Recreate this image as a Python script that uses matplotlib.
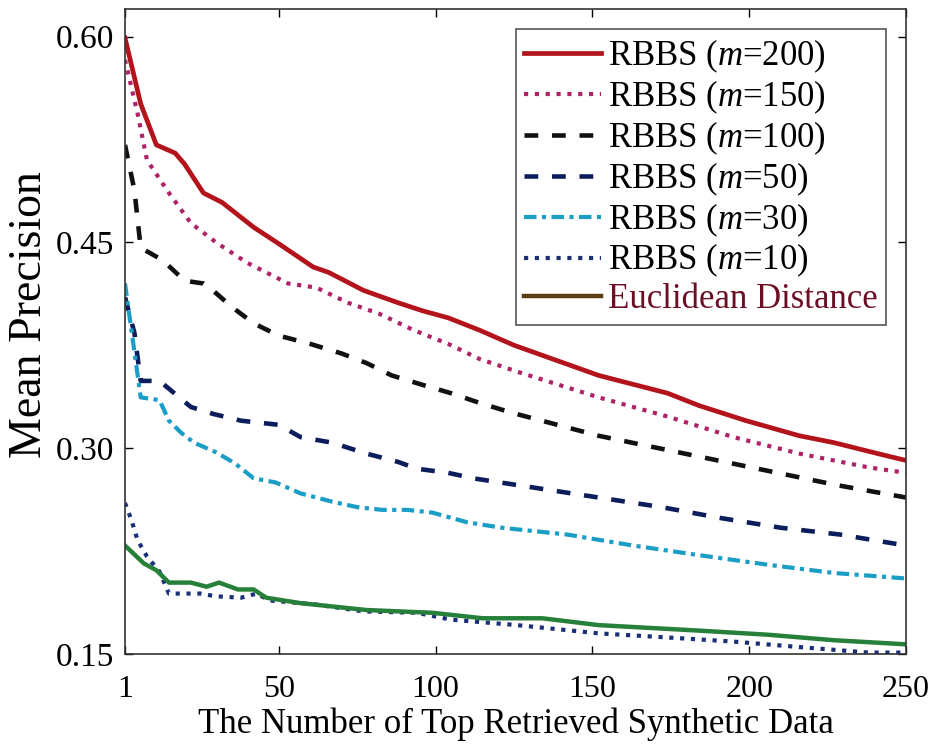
import matplotlib
matplotlib.use('Agg')
import matplotlib.pyplot as plt

# values (x = number of top retrieved items)
m200_x = [1, 6, 11, 17, 20, 26, 32, 42, 50, 61, 66, 77, 88, 96, 104, 114, 125, 152, 174, 184, 199, 216, 227, 241, 250]
m200_y = [0.599, 0.551, 0.521, 0.515, 0.507, 0.486, 0.479, 0.461, 0.449, 0.432, 0.428, 0.415, 0.406, 0.400, 0.395,
          0.386, 0.375, 0.353, 0.340, 0.331, 0.320, 0.309, 0.304, 0.296, 0.291]

m150_x = [1, 5, 8, 15, 22, 30, 40, 53, 62, 72, 82, 93, 104, 114, 127, 152, 174, 195, 216, 238, 250]
m150_y = [0.583, 0.544, 0.510, 0.486, 0.464, 0.450, 0.435, 0.420, 0.417, 0.406, 0.398, 0.386, 0.376, 0.365, 0.355,
          0.337, 0.323, 0.308, 0.296, 0.286, 0.282]

m100_x = [1, 4, 6, 13, 20, 26, 28, 35, 42, 50, 60, 70, 78, 86, 96, 105, 114, 124, 152, 171, 190, 209, 228, 250]
m100_y = [0.521, 0.488, 0.446, 0.437, 0.422, 0.420, 0.417, 0.403, 0.391, 0.382, 0.376, 0.369, 0.362, 0.353, 0.346,
          0.340, 0.333, 0.326, 0.309, 0.300, 0.291, 0.282, 0.273, 0.264]

m50_x = [1, 4, 6, 12, 22, 29, 38, 50, 57, 67, 78, 88, 94, 104, 112, 152, 172, 191, 210, 229, 250]
m50_y = [0.410, 0.384, 0.349, 0.349, 0.330, 0.325, 0.320, 0.317, 0.308, 0.304, 0.296, 0.290, 0.285, 0.282, 0.278,
         0.264, 0.257, 0.249, 0.242, 0.237, 0.229]

m30_x = [1, 6, 12, 15, 19, 23, 30, 36, 42, 49, 57, 67, 75, 83, 91, 99, 110, 121, 142, 163, 184, 206, 227, 250]
m30_y = [0.420, 0.337, 0.335, 0.320, 0.311, 0.304, 0.297, 0.289, 0.278, 0.275, 0.267, 0.261, 0.257, 0.255, 0.255,
         0.253, 0.246, 0.242, 0.237, 0.229, 0.222, 0.215, 0.209, 0.205]

m10_x = [1, 3, 5, 8, 12, 15, 25, 30, 38, 43, 47, 62, 77, 94, 105, 126, 152, 174, 195, 216, 238, 250]
m10_y = [0.260, 0.248, 0.233, 0.221, 0.210, 0.194, 0.194, 0.192, 0.191, 0.194, 0.189, 0.186, 0.181, 0.180, 0.175,
         0.171, 0.165, 0.162, 0.159, 0.155, 0.151, 0.151]

eucl_x = [1, 7, 11, 15, 22, 27, 31, 37, 42, 46, 57, 78, 99, 115, 134, 152, 184, 206, 227, 250]
eucl_y = [0.229, 0.216, 0.211, 0.202, 0.202, 0.199, 0.202, 0.197, 0.197, 0.191, 0.187, 0.182, 0.180, 0.176, 0.176,
          0.171, 0.167, 0.164, 0.160, 0.157]

x_ticks = [1, 50, 100, 150, 200, 250]
y_ticks = [0.15, 0.30, 0.45, 0.60]

plt.rcParams['font.family'] = ['Liberation Serif', 'DejaVu Serif']
plt.rcParams['mathtext.fontset'] = 'custom'
plt.rcParams['mathtext.rm'] = 'Liberation Serif'
plt.rcParams['mathtext.it'] = 'Liberation Serif:italic'

fig = plt.figure(figsize=(9.37, 7.56), dpi=100)
ax = fig.add_axes([0.1334, 0.135, 0.8336, 0.853])

ax.plot(m200_x, m200_y, color='#b3141c', lw=3.4, label='RBBS ($m$=200)')
ax.plot(m150_x, m150_y, color='#ad2367', lw=3, dashes=(1, 1.6), label='RBBS ($m$=150)')
ax.plot(m100_x, m100_y, color='#111111', lw=3.3, dashes=(3, 3), label='RBBS ($m$=100)')
ax.plot(m50_x, m50_y, color='#0c1d5c', lw=3.3, dashes=(3, 3), label='RBBS ($m$=50)')
ax.plot(m30_x, m30_y, color='#1a9ec6', lw=3, dashes=(3, 1.3, 1, 1.3), label='RBBS ($m$=30)')
ax.plot(m10_x, m10_y, color='#1b2e78', lw=3, dashes=(1, 1.6), label='RBBS ($m$=10)')
ax.plot(eucl_x, eucl_y, color='#27803a', lw=3.2, label='Euclidean Distance')

ax.set_xlim(1, 250)
ax.set_ylim(0.15, 0.62)
ax.set_xticks(x_ticks)
ax.set_yticks(y_ticks)
ax.set_yticklabels(['%.2f' % v for v in y_ticks])
ax.tick_params(direction='in', length=6, width=1, top=True, right=True)
ax.tick_params(axis='x', labelsize=23, pad=15)
ax.tick_params(axis='y', labelsize=24, pad=8)
for s in ax.spines.values():
    s.set_color('#333333')
    s.set_linewidth(1.2)

ax.set_xlabel('The Number of Top Retrieved Synthetic Data', fontsize=25, labelpad=3)
ax.set_ylabel('Mean Precision', fontsize=33)
ax.yaxis.set_label_coords(-0.095, 0.527)

leg = ax.legend(loc='upper right', bbox_to_anchor=(0.9744, 0.969), borderaxespad=0, fontsize=25,
                handlelength=2.2, handletextpad=0.2, labelspacing=0.1, borderpad=0.25,
                fancybox=False, framealpha=1, edgecolor='#555555')
leg.get_frame().set_linewidth(1.2)
leg.get_lines()[-1].set_color('#5a3d14')   # legend swatch for Euclidean is brown in the original
leg.get_texts()[-1].set_color('#6b0f24')

fig.savefig('out.png', dpi=100)
